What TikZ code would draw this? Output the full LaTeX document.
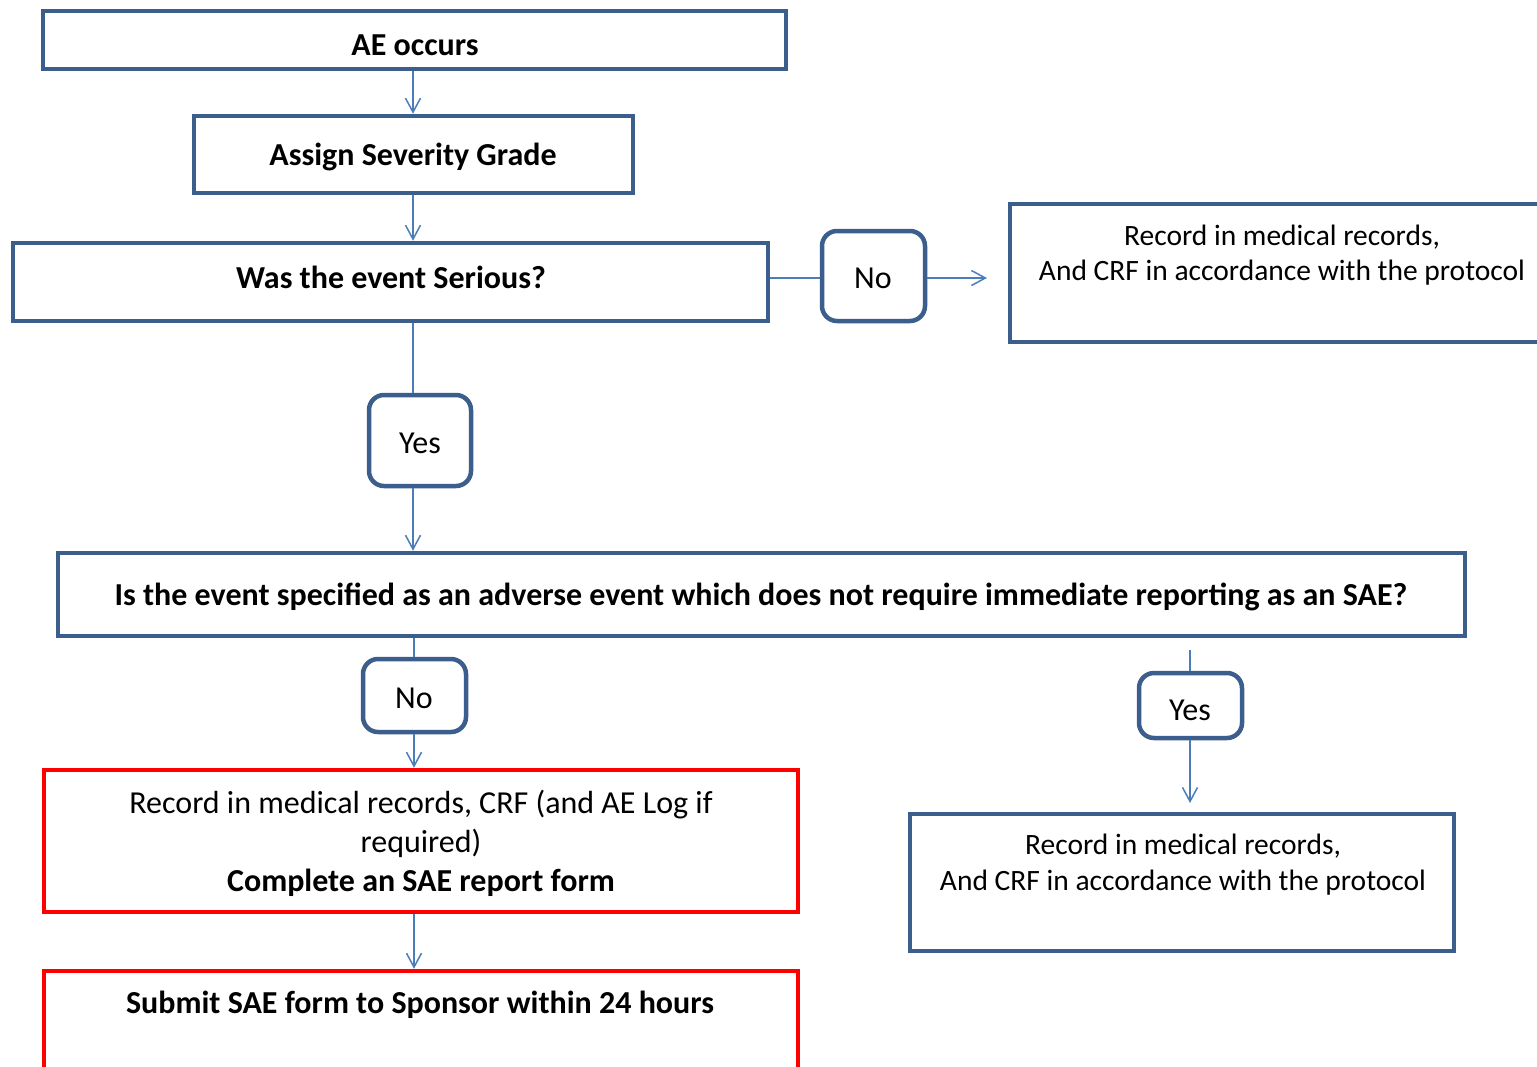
\documentclass[tikz,border=0pt]{standalone}
\usepackage{fontspec}
\setmainfont{Carlito}
\usetikzlibrary{arrows.meta}
\definecolor{boxblue}{HTML}{3B5E8C}
\definecolor{linkblue}{HTML}{4A7EBB}
\definecolor{boxred}{HTML}{FF0000}
\tikzset{
  bbox/.style={draw=boxblue,line width=4.5pt,inner sep=0pt,fill=white},
  rbox/.style={draw=boxred,line width=4.5pt,inner sep=0pt,fill=white},
  ybox/.style={draw=boxblue,line width=4.5pt,inner sep=0pt,rounded corners=15pt,fill=white},
  btxt/.style={inner sep=0pt,font=\fontsize{32}{39}\selectfont\bfseries,align=center},
  ntxt/.style={inner sep=0pt,font=\fontsize{32}{39}\selectfont,align=center},
  stxt/.style={inner sep=0pt,font=\fontsize{29.5}{35.5}\selectfont,align=center},
  link/.style={draw=linkblue,line width=1.5pt},
  arr/.style={link,-{Straight Barb[length=14pt,width=15pt,line width=1.5pt]}}
}
\begin{document}
\begin{tikzpicture}[x=1pt,y=-1pt]
\useasboundingbox (0,0) rectangle (1537,1066);
% boxes
\node[bbox,minimum width=743,minimum height=58] (ae) at (414.5,40) {};
\node[bbox,minimum width=439,minimum height=77] (sev) at (413.5,154.5) {};
\node[bbox,minimum width=755,minimum height=78] (ser) at (390.5,282) {};
\node[ybox,minimum width=103,minimum height=90] (no1) at (873.5,276) {};
\node[bbox,minimum width=540,minimum height=138] (rec1) at (1280,273) {};
\node[ybox,minimum width=102,minimum height=91] (yes1) at (420,440.5) {};
\node[bbox,minimum width=1407,minimum height=83] (spec) at (761.5,594.5) {};
\node[ybox,minimum width=103,minimum height=73] (no2) at (414.5,695.5) {};
\node[rbox,minimum width=754,minimum height=142] (rec2) at (421,841) {};
\node[rbox,minimum width=754,minimum height=120] (sub) at (421,1031) {};
\node[ybox,minimum width=103,minimum height=65] (yes2) at (1190.5,705.5) {};
\node[bbox,minimum width=544,minimum height=137] (rec3) at (1182,882.5) {};
% texts
\node[btxt] (t-ae) at (415,45) {AE occurs};
\node[btxt] (t-sev) at (413,157) {Assign Severity Grade};
\node[btxt] (t-ser) at (391,277) {Was the event Serious?};
\node[ntxt] (t-no1) at (873,278) {No};
\node[stxt] (t-rec1) at (1282,255) {Record in medical records,\\And CRF in accordance with the protocol};
\node[ntxt] (t-yes1) at (420,443) {Yes};
\node[btxt] (t-spec) at (761,597) {Is the event specified as an adverse event which does not require immediate reporting as an SAE?};
\node[ntxt] (t-no2) at (414,698) {No};
\node[ntxt] (t-rec2) at (421,843) {Record in medical records, CRF (and AE Log if\\required)\\\textbf{Complete an SAE report form}};
\node[btxt] (t-sub) at (420,1005) {Submit SAE form to Sponsor within 24 hours};
\node[ntxt] (t-yes2) at (1190,710) {Yes};
\node[stxt] (t-rec3) at (1183,864.5) {Record in medical records,\\And CRF in accordance with the protocol};
% connectors
\coordinate (noend) at (987,278);
\coordinate (yesstart) at (1190,650);
\draw[arr] (ae.south -| 413,0) -- (sev.north -| 413,0);
\draw[arr] (sev.south -| 413,0) -- (ser.north -| 413,0);
\draw[link] (ser.east |- 0,278) -- (no1.west |- 0,278);
\draw[arr] (no1.east |- 0,278) -- (noend);
\draw[link] (ser.south -| 413,0) -- (yes1.north -| 413,0);
\draw[arr] (yes1.south -| 413,0) -- (spec.north -| 413,0);
\draw[link] (spec.south -| 414,0) -- (no2.north -| 414,0);
\draw[arr] (no2.south -| 414,0) -- (rec2.north -| 414,0);
\draw[arr] (rec2.south -| 414,0) -- (sub.north -| 414,0);
\draw[link] (yesstart) -- (yes2.north -| 1190,0);
\draw[arr] (yes2.south -| 1190,0) -- (1190,803);
\end{tikzpicture}
\end{document}
